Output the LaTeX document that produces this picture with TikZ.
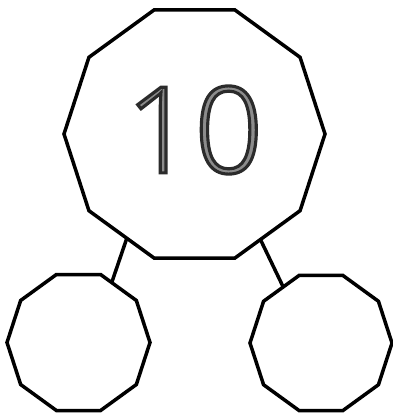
\documentclass[tikz,border=0pt]{standalone}
\usepackage{fontspec}
\setmainfont{Open Sans}
\newfontfamily\numfont[FakeBold=2.6]{Open Sans Light}
\usetikzlibrary{shapes.geometric}
\tikzset{
  deca/.style={draw=black, line width=3.5pt, regular polygon, regular polygon sides=10,
    inner sep=0pt, outer sep=0pt, minimum size=#1},
  link/.style={draw=black, line width=3.5pt},
  numtext/.style={inner sep=0pt, font=\numfont\fontsize{120}{120}\selectfont}
}
\begin{document}
\begin{tikzpicture}[x=1pt,y=-1pt]
\useasboundingbox (0,0) rectangle (393,413);
\node[deca=261pt] (big) at (194.5,134) {};
\node[deca=143pt] (left) at (78.5,342.5) {};
\node[deca=142pt] (right) at (321,343) {};
\node[numtext] (ten) at (194.5,130) {\special{pdf:bcolor [0.55] [0.17]}10\special{pdf:ecolor}};
\draw[link] (big.237.6) -- (left.61.8);
\draw[link] (big.302) -- (right.124.2);
\end{tikzpicture}
\end{document}
